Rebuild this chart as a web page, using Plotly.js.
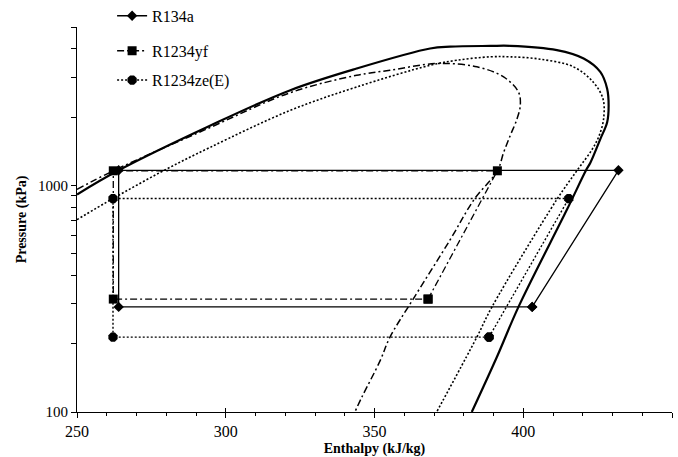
<!DOCTYPE html>
<html><head><meta charset="utf-8">
<script src="https://cdn.plot.ly/plotly-3.0.1.min.js"></script>
<style>html,body{margin:0;padding:0;background:#fff}#chart{width:678px;height:457px}</style>
</head><body><div id="chart"></div>
<script>
// Saturation domes (enthalpy kJ/kg, pressure kPa)
const r134aDomeH = [250, 264, 294.7, 321.5, 344, 368.7, 375.4, 389, 395.6, 411.3, 420.3, 425.9, 428.2, 428.7, 428.2, 425.9, 422.6, 421.1, 414.7, 398.4, 391.1, 382.7];
const r134aDomeP = [912, 1166, 1834, 2625, 3278, 4018, 4093, 4125, 4130, 3954, 3631, 3169, 2671, 2249, 1900, 1601, 1262, 1166, 782, 291, 174.4, 100];

const r1234yfDomeH = [250, 262.2, 294.7, 321.5, 344, 355.2, 371, 384.4, 393.4, 398.4, 399.0, 397.9, 395.6, 393.4, 391.3, 383.5, 375.4, 362.8, 355.2, 351.9, 345.7, 343.4];
const r1234yfDomeP = [960, 1160, 1800, 2560, 3061, 3221, 3450, 3335, 3011, 2582, 2249, 1965, 1656, 1396, 1160, 867, 575, 312, 214, 168.5, 116, 100];

const r1234zeDomeH = [250, 262.1, 279, 294.7, 321.5, 344, 368.7, 377.7, 388.9, 395.6, 405.7, 416.9, 423.5, 426.8, 427.0, 425.5, 423.2, 418, 411.3, 389.5, 384.4, 370.9];
const r1234zeDomeP = [706, 875, 1160, 1471, 2138, 2718, 3388, 3567, 3693, 3693, 3606, 3334, 2858, 2410, 1965, 1656, 1445, 1160, 867, 291, 214, 100];

// Refrigeration cycles
const r134aCycleH = [403, 432, 264, 264, 403];
const r134aCycleP = [291, 1166, 1166, 291, 291];
const r1234yfCycleH = [368, 391.3, 262.2, 262.2, 368];
const r1234yfCycleP = [315, 1160, 1160, 315, 315];
const r1234zeCycleH = [388.5, 415.3, 262.1, 262.1, 388.5];
const r1234zeCycleP = [214, 875, 875, 214, 214];

const seriesNames = ["R134a", "R1234yf", "R1234ze(E)"];

// Axis ticks
const xTickVals = [250, 300, 350, 400, 450];
const xTickText = ["250", "300", "350", "400", "450"];
const yTickVals = [100, 200, 300, 400, 500, 600, 700, 800, 900, 1000, 2000, 3000, 4000, 5000];
const yTickText = ["100", "", "", "", "", "", "", "", "", "1000", "", "", "", ""];

const FONT = "Liberation Serif";
const yfDash = "7px,3px,2px,3px";
const zeDot = "2px,2px";

const traces = [
  {x: r134aDomeH, y: r134aDomeP, mode: "lines", line: {color: "#000", width: 2.2, shape: "spline", smoothing: 1}, showlegend: false, hoverinfo: "skip"},
  {x: r1234yfDomeH, y: r1234yfDomeP, mode: "lines", line: {color: "#000", width: 1.5, dash: yfDash, shape: "spline", smoothing: 1}, showlegend: false, hoverinfo: "skip"},
  {x: r1234zeDomeH, y: r1234zeDomeP, mode: "lines", line: {color: "#000", width: 1.6, dash: zeDot, shape: "spline", smoothing: 1}, showlegend: false, hoverinfo: "skip"},
  {x: r134aCycleH, y: r134aCycleP, name: seriesNames[0], mode: "lines+markers", legend: "legend",
   line: {color: "#000", width: 1.3}, marker: {symbol: "diamond", size: 8, color: "#000"}},
  {x: r1234yfCycleH, y: r1234yfCycleP, name: seriesNames[1], mode: "lines+markers", legend: "legend2",
   line: {color: "#000", width: 1.3, dash: yfDash}, marker: {symbol: "square", size: 9, color: "#000"}},
  {x: r1234zeCycleH, y: r1234zeCycleP, name: seriesNames[2], mode: "lines+markers", legend: "legend3",
   line: {color: "#000", width: 1.4, dash: zeDot}, marker: {symbol: "octagon", size: 10, color: "#000"}},
  // empty trace so the inner tick axis is drawn
  {x: [], y: [], xaxis: "x2", yaxis: "y", mode: "lines", showlegend: false, hoverinfo: "skip"}
];

const legendBase = {xanchor: "left", yanchor: "middle", bgcolor: "rgba(0,0,0,0)", borderwidth: 0,
  font: {family: FONT, size: 16, color: "#000"}, itemwidth: 30};

const layout = {
  width: 678, height: 457,
  margin: {l: 77, r: 6, t: 27, b: 45, autoexpand: false},
  paper_bgcolor: "#fff", plot_bgcolor: "#fff",
  font: {family: FONT, color: "#000"},
  xaxis: {
    range: [250, 450], tickvals: xTickVals, ticktext: xTickText,
    showline: true, linecolor: "#000", linewidth: 1, mirror: false,
    ticks: "outside", ticklen: 5, tickcolor: "#000", tickwidth: 1,
    minor: {dtick: 10, ticks: "outside", ticklen: 3, tickcolor: "#000", showgrid: false},
    showgrid: false, zeroline: false,
    tickfont: {family: FONT, size: 16, color: "#000"},
    title: {text: "<b>Enthalpy (kJ/kg)</b>", font: {family: FONT, size: 14, color: "#000"}, standoff: 6}
  },
  xaxis2: {
    overlaying: "x", anchor: "y", side: "bottom", range: [250, 450],
    tickvals: xTickVals, showticklabels: false, ticks: "inside", ticklen: 4,
    tickcolor: "#000", tickwidth: 1, showline: false, showgrid: false, zeroline: false
  },
  yaxis: {
    type: "log", range: [2, Math.log10(5000)], tickvals: yTickVals, ticktext: yTickText,
    showline: true, linecolor: "#000", linewidth: 1, mirror: false,
    ticks: "outside", ticklen: 5, tickcolor: "#000", tickwidth: 1,
    showgrid: false, zeroline: false,
    tickfont: {family: FONT, size: 15, color: "#000"},
    title: {text: "<b>Pressure (kPa)</b>", font: {family: FONT, size: 14, color: "#000"}, standoff: 8}
  },
  legend: Object.assign({}, legendBase, {x: 0.059, y: 1.029}),
  legend2: Object.assign({}, legendBase, {x: 0.059, y: 0.938}),
  legend3: Object.assign({}, legendBase, {x: 0.059, y: 0.862}),
  showlegend: true
};

Plotly.newPlot("chart", traces, layout, {displayModeBar: false, staticPlot: true});
</script>
</body></html>
